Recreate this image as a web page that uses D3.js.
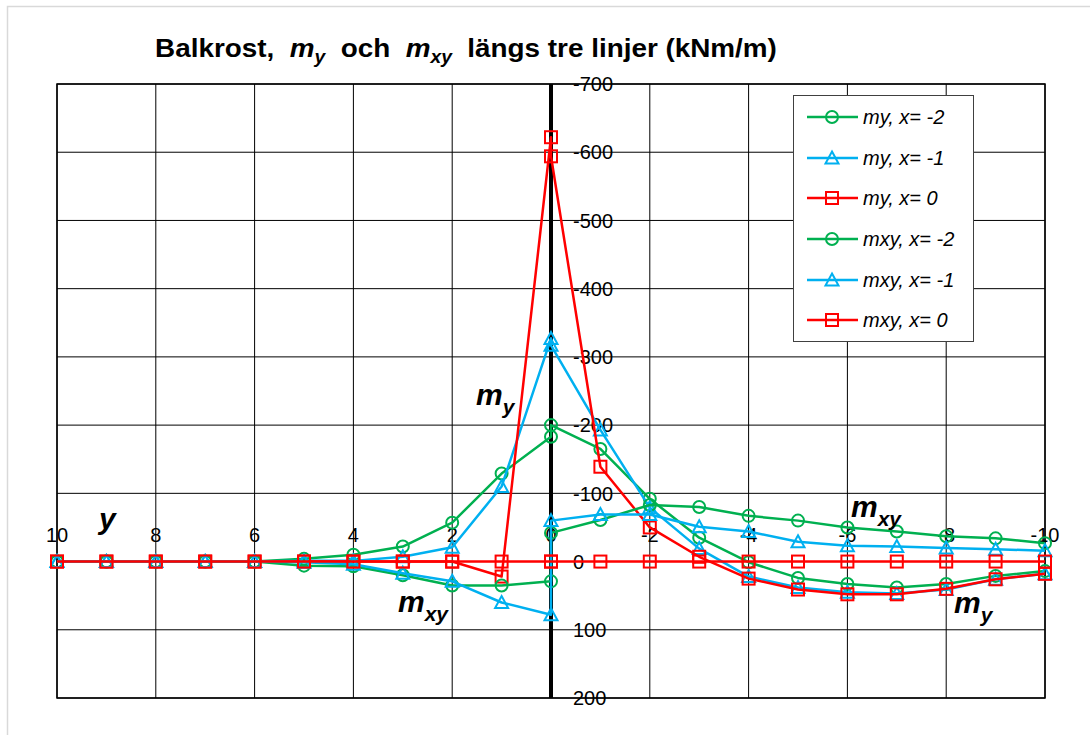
<!DOCTYPE html>
<html>
<head>
<meta charset="utf-8">
<script src="https://cdn.jsdelivr.net/npm/d3@7"></script>
<style>
  html, body { margin: 0; padding: 0; background: #fff; }
  svg { display: block; font-family: "Liberation Sans", Arial, sans-serif; }
</style>
</head>
<body>
<svg id="chart" width="1090" height="735"></svg>
<script>
// ---------- data ----------
const xPositions = [10, 9, 8, 7, 6, 5, 4, 3, 2, 1, 0, 0, -1, -2, -3, -4, -5, -6, -7, -8, -9, -10];

const my_xm2  = [0, 0, 0, 0, 0, -4, -10, -22, -57, -129, -183, -200, -165, -92, -35, 1, 24, 33, 38, 33, 21, 14];
const my_xm1  = [0, 0, 0, 0, 0, -1, -1, -7, -21, -110, -327, -317, -193, -79, -19, 22, 38, 45, 47, 41, 26, 18];
const my_x0   = [0, 0, 0, 0, 0, 0, 0, 0, 0, 22, -622, -594, -139, -50, -7, 25, 41, 48, 48, 40, 26, 18];
const mxy_xm2 = [0, 0, 0, 0, 0, 6, 7, 20, 35, 35, 29, -42, -61, -83, -80, -67, -60, -50, -44, -37, -34, -27];
const mxy_xm1 = [0, 0, 0, 0, 0, 1, 4, 17, 29, 60, 78, -60, -69, -69, -51, -44, -29, -23, -22, -20, -18, -16];
const mxy_x0  = [0, 0, 0, 0, 0, 0, 0, 0, 0, 0, 0, 0, 0, 0, 0, 0, 0, 0, 0, 0, 0, 0];

const seriesNames = ["my, x= -2", "my, x= -1", "my, x= 0", "mxy, x= -2", "mxy, x= -1", "mxy, x= 0"];

const xTickValues = [10, 8, 6, 4, 2, 0, -2, -4, -6, -8, -10];
const xTickLabels = ["10", "8", "6", "4", "2", "0", "-2", "-4", "-6", "-8", "-10"];
const yTickValues = [-700, -600, -500, -400, -300, -200, -100, 0, 100, 200];
const yTickLabels = ["-700", "-600", "-500", "-400", "-300", "-200", "-100", "0", "100", "200"];

// ---------- styles ----------
const GREEN = "#00B050", BLUE = "#00B0F0", RED = "#FF0000";
const seriesStyle = [
  { color: GREEN, marker: "circle" },
  { color: BLUE,  marker: "triangle" },
  { color: RED,   marker: "square" },
  { color: GREEN, marker: "circle" },
  { color: BLUE,  marker: "triangle" },
  { color: RED,   marker: "square" }
];
const seriesValues = [my_xm2, my_xm1, my_x0, mxy_xm2, mxy_xm1, mxy_x0];
const series = seriesNames.map((name, i) => ({
  name,
  color: seriesStyle[i].color,
  marker: seriesStyle[i].marker,
  points: xPositions.map((xv, j) => ({ x: xv, y: seriesValues[i][j] }))
}));

const svg = d3.select("#chart");
const P = { l: 57, r: 1045, t: 84, b: 698 };

const x = d3.scaleLinear().domain([10, -10]).range([P.l, P.r]);
const y = d3.scaleLinear().domain([-700, 200]).range([P.t, P.b]);

// outer chart border
svg.append("rect").attr("x", 7.5).attr("y", 6.5).attr("width", 1100).attr("height", 760)
  .attr("fill", "#fff").attr("stroke", "#d9d9d9").attr("stroke-width", 1.5);

// title
const title = svg.append("text")
  .attr("x", 466).attr("y", 57)
  .attr("text-anchor", "middle")
  .attr("font-weight", "bold")
  .attr("font-size", 26)
  .style("white-space", "pre")
  .attr("fill", "#000");
title.append("tspan").text("Balkrost,  ");
title.append("tspan").attr("font-style", "italic").text("m");
title.append("tspan").attr("font-style", "italic").attr("font-size", 18).attr("dy", 6).text("y");
title.append("tspan").attr("dy", -6).text("  och  ");
title.append("tspan").attr("font-style", "italic").text("m");
title.append("tspan").attr("font-style", "italic").attr("font-size", 18).attr("dy", 6).text("xy");
title.append("tspan").attr("dy", -6).text("  längs tre linjer (kNm/m)");
// fit title to the width it has in the reference
const tw = title.node().getComputedTextLength();
if (tw > 0) {
  const target = 622;
  const sx = target / tw;
  title.attr("transform", `translate(466,0) scale(${sx},1) translate(-466,0)`);
}

// gridlines
const grid = svg.append("g");
grid.selectAll("line.v").data(xTickValues).join("line")
  .attr("x1", d => x(d)).attr("x2", d => x(d))
  .attr("y1", P.t).attr("y2", P.b)
  .attr("stroke", "#000").attr("stroke-width", 1);
grid.selectAll("line.h").data(yTickValues).join("line")
  .attr("x1", P.l).attr("x2", P.r)
  .attr("y1", d => y(d)).attr("y2", d => y(d))
  .attr("stroke", "#000").attr("stroke-width", 1);

// plot border
svg.append("rect").attr("x", P.l).attr("y", P.t).attr("width", P.r - P.l).attr("height", P.b - P.t)
  .attr("fill", "none").attr("stroke", "#000").attr("stroke-width", 1.5);

// vertical axis (at x = 0)
svg.append("line").attr("x1", x(0)).attr("x2", x(0)).attr("y1", P.t).attr("y2", P.b)
  .attr("stroke", "#000").attr("stroke-width", 4);

// tick labels
svg.append("g").selectAll("text").data(yTickValues).join("text")
  .attr("x", x(0) + 22).attr("y", d => y(d)).attr("dy", "0.36em")
  .attr("font-size", 20).attr("fill", "#000")
  .text((d, i) => yTickLabels[i]);
svg.append("g").selectAll("text").data(xTickValues).join("text")
  .attr("x", d => x(d)).attr("y", y(0) - 20)
  .attr("text-anchor", "middle")
  .attr("font-size", 20).attr("fill", "#000")
  .text((d, i) => xTickLabels[i]);

// marker drawing
function drawMarker(g, type, color) {
  if (type === "circle") {
    g.append("circle").attr("r", 6).attr("fill", "none").attr("stroke", color).attr("stroke-width", 2);
  } else if (type === "square") {
    g.append("rect").attr("x", -6).attr("y", -6).attr("width", 12).attr("height", 12)
      .attr("fill", "none").attr("stroke", color).attr("stroke-width", 2);
  } else {
    g.append("path").attr("d", "M0,-6.5L6.5,5.5L-6.5,5.5Z")
      .attr("fill", "none").attr("stroke", color).attr("stroke-width", 2).attr("stroke-linejoin", "miter");
  }
}

// series
const line = d3.line().x(d => x(d.x)).y(d => y(d.y));
series.forEach(s => {
  const g = svg.append("g");
  g.append("path").attr("d", line(s.points))
    .attr("fill", "none").attr("stroke", s.color).attr("stroke-width", 2.5).attr("stroke-linejoin", "round");
  s.points.forEach(p => {
    const mg = g.append("g").attr("transform", `translate(${x(p.x)},${y(p.y)})`);
    drawMarker(mg, s.marker, s.color);
  });
});

// in-plot annotations
function annot(px, py, main, sub) {
  const t = svg.append("text").attr("x", px).attr("y", py)
    .attr("font-weight", "bold").attr("font-style", "italic").attr("font-size", 30).attr("fill", "#000");
  t.append("tspan").text(main);
  if (sub) t.append("tspan").attr("font-size", 21).attr("dy", 9).text(sub);
}
annot(476, 405, "m", "y");
annot(398, 612, "m", "xy");
annot(851, 517, "m", "xy");
annot(954, 613, "m", "y");
annot(99, 529, "y", null);

// legend
const lg = svg.append("g");
lg.append("rect").attr("x", 793.5).attr("y", 95.5).attr("width", 180).attr("height", 246)
  .attr("fill", "#fff").attr("stroke", "#404040").attr("stroke-width", 1);
const legendY = [117, 158, 198, 239, 280, 320];
series.forEach((s, i) => {
  const row = lg.append("g").attr("transform", `translate(0,${legendY[i]})`);
  row.append("line").attr("x1", 807).attr("x2", 858).attr("y1", 0).attr("y2", 0)
    .attr("stroke", s.color).attr("stroke-width", 2.5);
  const mg = row.append("g").attr("transform", "translate(832,0)");
  drawMarker(mg, s.marker, s.color);
  row.append("text").attr("x", 863).attr("y", 0).attr("dy", "0.36em")
    .attr("font-style", "italic").attr("font-size", 20).attr("fill", "#000").text(s.name);
});
</script>
</body>
</html>
